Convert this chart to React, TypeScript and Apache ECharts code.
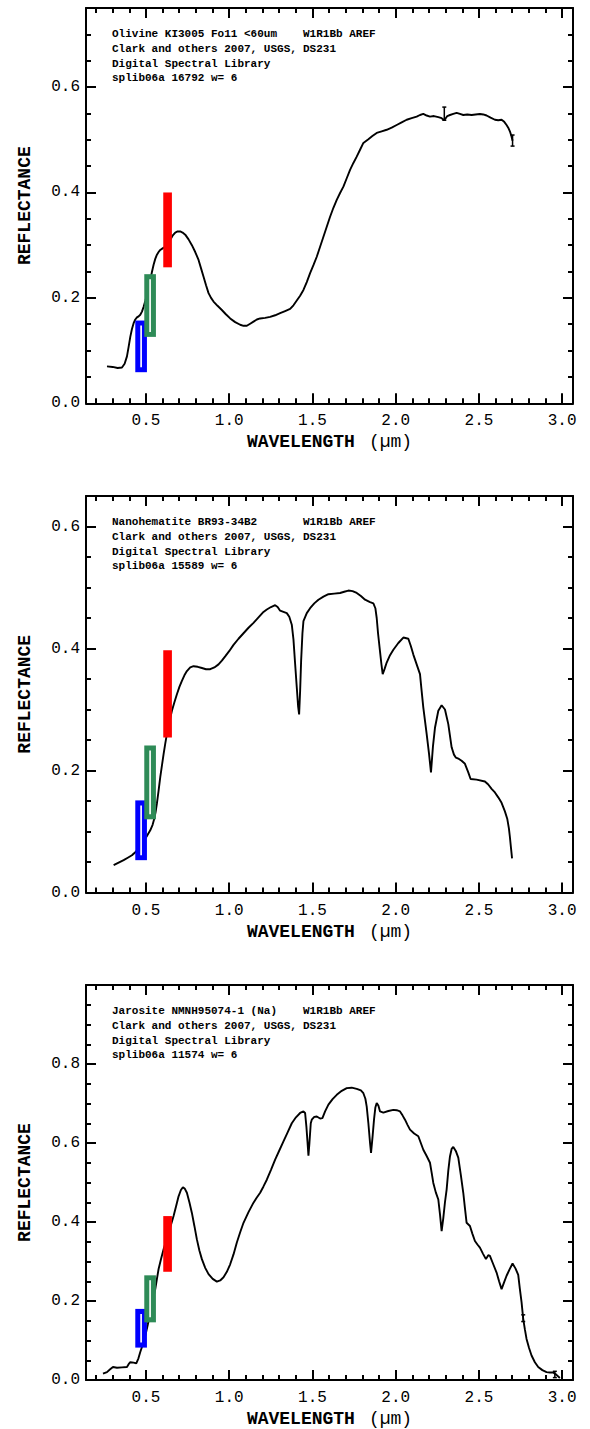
import React, { useEffect, useRef } from "react";
import * as echarts from "echarts";

// ---------- Data ----------
const X_MAJOR = [0.5, 1.0, 1.5, 2.0, 2.5, 3.0];
const X_MINOR = [0.2, 0.3, 0.4, 0.6, 0.7, 0.8, 0.9, 1.1, 1.2, 1.3, 1.4, 1.6, 1.7, 1.8, 1.9, 2.1, 2.2, 2.3, 2.4, 2.6, 2.7, 2.8, 2.9];

const Y1_MAJOR = [0.0, 0.2, 0.4, 0.6];
const Y1_MINOR = [0.05, 0.1, 0.15, 0.25, 0.3, 0.35, 0.45, 0.5, 0.55, 0.65, 0.7];
const Y2_MAJOR = [0.0, 0.2, 0.4, 0.6];
const Y2_MINOR = [0.05, 0.1, 0.15, 0.25, 0.3, 0.35, 0.45, 0.5, 0.55];
const Y3_MAJOR = [0.0, 0.2, 0.4, 0.6, 0.8];
const Y3_MINOR = [0.05, 0.1, 0.15, 0.25, 0.3, 0.35, 0.45, 0.5, 0.55, 0.65, 0.7, 0.75, 0.85, 0.9, 0.95];

const OLIVINE_WL = [0.266, 0.3, 0.33, 0.356, 0.372, 0.386, 0.396, 0.406, 0.416, 0.426, 0.436, 0.446, 0.456, 0.466, 0.476, 0.486, 0.496, 0.506, 0.516, 0.526, 0.536, 0.546, 0.556, 0.566, 0.576, 0.586, 0.6, 0.616, 0.63, 0.646, 0.66, 0.676, 0.69, 0.706, 0.72, 0.736, 0.756, 0.776, 0.796, 0.816, 0.831, 0.846, 0.861, 0.876, 0.891, 0.906, 0.93, 0.956, 0.98, 1.006, 1.036, 1.066, 1.086, 1.106, 1.126, 1.146, 1.166, 1.186, 1.216, 1.246, 1.276, 1.306, 1.336, 1.366, 1.386, 1.406, 1.426, 1.446, 1.466, 1.486, 1.506, 1.526, 1.546, 1.566, 1.586, 1.606, 1.626, 1.646, 1.666, 1.686, 1.706, 1.726, 1.746, 1.766, 1.786, 1.806, 1.836, 1.86, 1.886, 1.916, 1.946, 1.976, 2.006, 2.036, 2.066, 2.096, 2.126, 2.146, 2.166, 2.186, 2.206, 2.23, 2.256, 2.276, 2.292, 2.31, 2.326, 2.346, 2.366, 2.386, 2.406, 2.43, 2.456, 2.48, 2.506, 2.526, 2.546, 2.57, 2.596, 2.616, 2.636, 2.652, 2.666, 2.676, 2.686, 2.695, 2.702];
const OLIVINE_R = [0.07, 0.069, 0.067, 0.068, 0.075, 0.089, 0.107, 0.126, 0.141, 0.152, 0.159, 0.163, 0.165, 0.168, 0.174, 0.183, 0.194, 0.206, 0.219, 0.234, 0.249, 0.263, 0.274, 0.282, 0.287, 0.291, 0.294, 0.297, 0.302, 0.31, 0.318, 0.324, 0.326, 0.326, 0.324, 0.32, 0.311, 0.3, 0.287, 0.272, 0.256, 0.24, 0.224, 0.209, 0.2, 0.193, 0.185, 0.177, 0.169, 0.161, 0.154, 0.149, 0.147, 0.147, 0.151, 0.155, 0.159, 0.161, 0.162, 0.164, 0.167, 0.171, 0.175, 0.179, 0.186, 0.195, 0.204, 0.215, 0.23, 0.247, 0.262, 0.278, 0.297, 0.316, 0.335, 0.354, 0.371, 0.386, 0.399, 0.411, 0.427, 0.443, 0.456, 0.468, 0.481, 0.494, 0.501, 0.507, 0.513, 0.516, 0.519, 0.523, 0.528, 0.533, 0.538, 0.541, 0.544, 0.547, 0.549, 0.546, 0.544, 0.545, 0.543, 0.541, 0.537, 0.545, 0.547, 0.549, 0.551, 0.549, 0.547, 0.548, 0.547, 0.548, 0.549, 0.548, 0.546, 0.542, 0.538, 0.537, 0.538, 0.534, 0.528, 0.523, 0.516, 0.507, 0.498];

const HEMATITE_WL = [0.306, 0.336, 0.366, 0.391, 0.416, 0.436, 0.456, 0.476, 0.496, 0.511, 0.526, 0.54, 0.55, 0.558, 0.566, 0.576, 0.586, 0.596, 0.606, 0.616, 0.626, 0.641, 0.656, 0.671, 0.686, 0.701, 0.716, 0.731, 0.746, 0.766, 0.786, 0.811, 0.836, 0.861, 0.886, 0.911, 0.936, 0.956, 0.976, 1.001, 1.026, 1.056, 1.086, 1.116, 1.146, 1.176, 1.206, 1.226, 1.251, 1.276, 1.291, 1.306, 1.326, 1.346, 1.361, 1.376, 1.386, 1.396, 1.406, 1.414, 1.42, 1.426, 1.432, 1.44, 1.446, 1.466, 1.486, 1.511, 1.536, 1.566, 1.596, 1.631, 1.666, 1.691, 1.716, 1.741, 1.766, 1.791, 1.816, 1.846, 1.866, 1.878, 1.886, 1.894, 1.906, 1.914, 1.922, 1.934, 1.946, 1.966, 1.986, 2.016, 2.046, 2.076, 2.091, 2.106, 2.126, 2.146, 2.156, 2.166, 2.186, 2.2, 2.212, 2.224, 2.236, 2.256, 2.276, 2.296, 2.316, 2.336, 2.35, 2.362, 2.38, 2.396, 2.416, 2.436, 2.45, 2.486, 2.536, 2.556, 2.576, 2.596, 2.616, 2.636, 2.656, 2.67, 2.68, 2.686, 2.693, 2.699];
const HEMATITE_R = [0.045, 0.049, 0.053, 0.057, 0.061, 0.066, 0.072, 0.079, 0.088, 0.095, 0.102, 0.111, 0.121, 0.132, 0.146, 0.167, 0.189, 0.208, 0.227, 0.244, 0.26, 0.28, 0.298, 0.312, 0.325, 0.337, 0.347, 0.356, 0.363, 0.369, 0.371, 0.37, 0.368, 0.366, 0.366, 0.369, 0.374, 0.38, 0.387, 0.396, 0.406, 0.416, 0.425, 0.434, 0.442, 0.451, 0.46, 0.464, 0.468, 0.471, 0.468, 0.462, 0.46, 0.458, 0.452, 0.439, 0.415, 0.375, 0.336, 0.305, 0.292, 0.33, 0.379, 0.425, 0.445, 0.458, 0.466, 0.474, 0.48, 0.485, 0.489, 0.49, 0.491, 0.493, 0.495, 0.494, 0.491, 0.486, 0.48, 0.476, 0.474, 0.466, 0.45, 0.425, 0.395, 0.375, 0.358, 0.367, 0.377, 0.389, 0.398, 0.409, 0.418, 0.416, 0.404, 0.39, 0.374, 0.358, 0.33, 0.303, 0.26, 0.228, 0.197, 0.24, 0.27, 0.298, 0.307, 0.3, 0.276, 0.238, 0.226, 0.221, 0.219, 0.216, 0.211, 0.197, 0.186, 0.185, 0.182, 0.177, 0.17, 0.164, 0.156, 0.147, 0.133, 0.121, 0.105, 0.091, 0.072, 0.056];

const JAROSITE_WL = [0.242, 0.266, 0.285, 0.302, 0.326, 0.356, 0.386, 0.396, 0.406, 0.426, 0.442, 0.455, 0.466, 0.481, 0.496, 0.511, 0.526, 0.541, 0.556, 0.566, 0.576, 0.591, 0.606, 0.621, 0.636, 0.651, 0.666, 0.681, 0.696, 0.71, 0.722, 0.734, 0.746, 0.761, 0.776, 0.791, 0.806, 0.821, 0.836, 0.856, 0.876, 0.901, 0.926, 0.946, 0.966, 0.986, 1.006, 1.026, 1.046, 1.066, 1.086, 1.116, 1.146, 1.166, 1.186, 1.206, 1.226, 1.251, 1.276, 1.301, 1.326, 1.351, 1.376, 1.401, 1.426, 1.446, 1.456, 1.464, 1.47, 1.476, 1.482, 1.49, 1.496, 1.511, 1.526, 1.546, 1.56, 1.576, 1.596, 1.621, 1.646, 1.676, 1.706, 1.736, 1.766, 1.791, 1.806, 1.818, 1.826, 1.836, 1.846, 1.852, 1.862, 1.87, 1.878, 1.886, 1.896, 1.906, 1.926, 1.956, 1.986, 2.006, 2.026, 2.041, 2.056, 2.071, 2.086, 2.111, 2.136, 2.151, 2.166, 2.186, 2.206, 2.216, 2.226, 2.241, 2.256, 2.266, 2.276, 2.286, 2.296, 2.306, 2.316, 2.326, 2.336, 2.346, 2.361, 2.376, 2.391, 2.406, 2.416, 2.426, 2.446, 2.461, 2.476, 2.491, 2.506, 2.524, 2.542, 2.556, 2.566, 2.586, 2.606, 2.621, 2.636, 2.651, 2.666, 2.684, 2.702, 2.72, 2.736, 2.746, 2.756, 2.766, 2.776, 2.786, 2.801, 2.816, 2.836, 2.856, 2.881, 2.906, 2.926, 2.946, 2.966, 2.986];
const JAROSITE_R = [0.016, 0.02, 0.027, 0.033, 0.031, 0.032, 0.033, 0.04, 0.045, 0.044, 0.042, 0.055, 0.071, 0.09, 0.112, 0.14, 0.171, 0.201, 0.23, 0.256, 0.281, 0.307, 0.331, 0.352, 0.373, 0.394, 0.415, 0.44, 0.465, 0.481, 0.488, 0.484, 0.474, 0.45, 0.423, 0.39, 0.356, 0.328, 0.306, 0.284, 0.268, 0.256, 0.249, 0.252, 0.26, 0.274, 0.293, 0.318, 0.348, 0.374, 0.398, 0.425, 0.449, 0.462, 0.474, 0.49, 0.507, 0.532, 0.558, 0.581, 0.604, 0.627, 0.65, 0.665, 0.676, 0.68, 0.676, 0.64, 0.605, 0.568, 0.6, 0.65, 0.659, 0.666, 0.667, 0.662, 0.663, 0.68, 0.697, 0.711, 0.722, 0.732, 0.739, 0.74, 0.737, 0.733, 0.726, 0.712, 0.692, 0.65, 0.6, 0.575, 0.62, 0.66, 0.69, 0.701, 0.695, 0.68, 0.677, 0.681, 0.684, 0.683, 0.68, 0.67, 0.659, 0.646, 0.634, 0.624, 0.617, 0.6, 0.583, 0.567, 0.55, 0.525, 0.499, 0.475, 0.457, 0.42, 0.377, 0.41, 0.45, 0.482, 0.53, 0.566, 0.585, 0.59, 0.58, 0.563, 0.52, 0.474, 0.435, 0.398, 0.39, 0.37, 0.352, 0.343, 0.335, 0.32, 0.306, 0.316, 0.314, 0.293, 0.272, 0.25, 0.23, 0.247, 0.264, 0.28, 0.295, 0.282, 0.266, 0.23, 0.197, 0.155, 0.128, 0.104, 0.081, 0.062, 0.045, 0.033, 0.025, 0.02, 0.019, 0.019, 0.013, 0.005];

// Wavelength bands of the colour boxes: [start, end]
const BOX_WL = [
  [0.436, 0.506], // blue
  [0.49, 0.56], // green
  [0.604, 0.656], // red
];
const BOX_COLORS = ["#0000ff", "#2e8b57", "#ff0000"];
const BOX_HOLLOW = [true, true, false];
// Reflectance range [low, high] of each box, per panel
const OLIVINE_BOX_R = [[0.059, 0.157], [0.126, 0.245], [0.258, 0.4]];
const HEMATITE_BOX_R = [[0.053, 0.151], [0.12, 0.241], [0.254, 0.397]];
const JAROSITE_BOX_R = [[0.082, 0.18], [0.146, 0.265], [0.274, 0.415]];

// Error bars: [wavelength, low, high]
const OLIVINE_ERR = [[2.292, 0.537, 0.562], [2.702, 0.488, 0.509]];
const HEMATITE_ERR: number[][] = [];
const JAROSITE_ERR = [[2.766, 0.148, 0.165], [2.956, 0.006, 0.022]];

const OLIVINE_LINES = ["Olivine KI3005 Fo11 <60um", "Clark and others 2007, USGS,", "Digital Spectral Library", "splib06a 16792 w= 6"];
const HEMATITE_LINES = ["Nanohematite BR93-34B2", "Clark and others 2007, USGS,", "Digital Spectral Library", "splib06a 15589 w= 6"];
const JAROSITE_LINES = ["Jarosite NMNH95074-1 (Na)", "Clark and others 2007, USGS,", "Digital Spectral Library", "splib06a 11574 w= 6"];
const RIGHT_LINES = ["W1R1Bb AREF", "DS231"];

const X_MIN = 0.14;
const X_MAX = 3.065;

// ---------- Layout ----------
const W = 590;
const H = 1429;
const GRID_LEFT = 86;
const GRID_WIDTH = 487;
const GRID_TOPS = [8, 496, 985];
const GRID_HEIGHTS = [395.3, 396.5, 396.3];
const MONO = "'Liberation Mono', 'DejaVu Sans Mono', monospace";

const PANELS = [
  { wl: OLIVINE_WL, r: OLIVINE_R, yMax: 0.75, yMajor: Y1_MAJOR, yMinor: Y1_MINOR, box: OLIVINE_BOX_R, err: OLIVINE_ERR, lines: OLIVINE_LINES },
  { wl: HEMATITE_WL, r: HEMATITE_R, yMax: 0.65, yMajor: Y2_MAJOR, yMinor: Y2_MINOR, box: HEMATITE_BOX_R, err: HEMATITE_ERR, lines: HEMATITE_LINES },
  { wl: JAROSITE_WL, r: JAROSITE_R, yMax: 1.0, yMajor: Y3_MAJOR, yMinor: Y3_MINOR, box: JAROSITE_BOX_R, err: JAROSITE_ERR, lines: JAROSITE_LINES },
];

const AXIS_LINE = { color: "#000", width: 2 };

function buildOption() {
  const grid: any[] = [];
  const xAxis: any[] = [];
  const yAxis: any[] = [];
  const series: any[] = [];
  const title: any[] = [];

  PANELS.forEach((p, g) => {
    grid.push({ left: GRID_LEFT, top: GRID_TOPS[g], width: GRID_WIDTH, height: GRID_HEIGHTS[g], containLabel: false });

    const xBase = (position: string, values: number[], len: number, withLabel: boolean, line: boolean) => ({
      type: "value",
      gridIndex: g,
      position,
      min: X_MIN,
      max: X_MAX,
      axisLine: { show: line, onZero: false, lineStyle: AXIS_LINE },
      axisTick: { show: true, inside: true, length: len, customValues: values, lineStyle: AXIS_LINE },
      axisLabel: withLabel
        ? { show: true, customValues: values, formatter: (v: number) => v.toFixed(1), margin: 10, color: "#000", fontFamily: MONO, fontSize: 16 }
        : { show: false },
      splitLine: { show: false },
    });
    const xMainIndex = xAxis.length;
    xAxis.push({
      ...xBase("bottom", X_MAJOR, 10, true, true),
      name: "{b|WAVELENGTH}{n|(µm)}",
      nameLocation: "middle",
      nameGap: 30,
      nameTextStyle: {
        rich: {
          b: { fontFamily: MONO, fontSize: 18, fontWeight: "bold", color: "#000" },
          n: { fontFamily: MONO, fontSize: 18, fontWeight: "normal", color: "#000", padding: [0, 0, 0, 14] },
        },
      },
    });
    xAxis.push(xBase("bottom", X_MINOR, 5, false, false));
    xAxis.push(xBase("top", X_MAJOR, 10, false, true));
    xAxis.push(xBase("top", X_MINOR, 5, false, false));

    const yBase = (position: string, values: number[], len: number, withLabel: boolean, line: boolean) => ({
      type: "value",
      gridIndex: g,
      position,
      min: 0,
      max: p.yMax,
      axisLine: { show: line, onZero: false, lineStyle: AXIS_LINE },
      axisTick: { show: true, inside: true, length: len, customValues: values, lineStyle: AXIS_LINE },
      axisLabel: withLabel
        ? { show: true, customValues: values, formatter: (v: number) => v.toFixed(1), margin: 6, color: "#000", fontFamily: MONO, fontSize: 16 }
        : { show: false },
      splitLine: { show: false },
    });
    const yMainIndex = yAxis.length;
    yAxis.push({
      ...yBase("left", p.yMajor, 10, true, true),
      name: "REFLECTANCE",
      nameLocation: "middle",
      nameRotate: 90,
      nameGap: 52,
      nameTextStyle: { fontFamily: MONO, fontSize: 18, fontWeight: "bold", color: "#000" },
    });
    yAxis.push(yBase("left", p.yMinor, 5, false, false));
    yAxis.push(yBase("right", p.yMajor, 10, false, true));
    yAxis.push(yBase("right", p.yMinor, 5, false, false));

    series.push({
      type: "line",
      xAxisIndex: xMainIndex,
      yAxisIndex: yMainIndex,
      data: p.wl.map((w, i) => [w, p.r[i]]),
      showSymbol: false,
      symbol: "none",
      lineStyle: { color: "#000", width: 1.9 },
      z: 2,
    });

    series.push({
      type: "custom",
      xAxisIndex: xMainIndex,
      yAxisIndex: yMainIndex,
      coordinateSystem: "cartesian2d",
      data: BOX_WL.map((b, k) => [b[0], b[1], p.box[k][0], p.box[k][1], k]),
      encode: { x: [0, 1], y: [2, 3] },
      renderItem: (_params: any, api: any) => {
        const k = api.value(4);
        const tl = api.coord([api.value(0), api.value(3)]);
        const br = api.coord([api.value(1), api.value(2)]);
        const w = br[0] - tl[0];
        const h = br[1] - tl[1];
        const children: any[] = [
          { type: "rect", shape: { x: tl[0], y: tl[1], width: w, height: h }, style: { fill: BOX_COLORS[k] } },
        ];
        if (BOX_HOLLOW[k]) {
          const inset = 5;
          children.push({
            type: "rect",
            shape: { x: tl[0] + inset, y: tl[1] + inset, width: Math.max(w - 2 * inset, 1), height: h - 2 * inset },
            style: { fill: "#ffffff" },
          });
        }
        return { type: "group", children };
      },
      z: 3,
    });

    if (p.err.length) {
      series.push({
        type: "custom",
        xAxisIndex: xMainIndex,
        yAxisIndex: yMainIndex,
        coordinateSystem: "cartesian2d",
        data: p.err,
        encode: { x: 0, y: [1, 2] },
        renderItem: (_params: any, api: any) => {
          const lo = api.coord([api.value(0), api.value(1)]);
          const hi = api.coord([api.value(0), api.value(2)]);
          const st = { stroke: "#000", lineWidth: 1.5 };
          return {
            type: "group",
            children: [
              { type: "line", shape: { x1: lo[0], y1: lo[1], x2: hi[0], y2: hi[1] }, style: st },
              { type: "line", shape: { x1: lo[0] - 2, y1: lo[1], x2: lo[0] + 2, y2: lo[1] }, style: st },
              { type: "line", shape: { x1: hi[0] - 2, y1: hi[1], x2: hi[0] + 2, y2: hi[1] }, style: st },
            ],
          };
        },
        z: 2,
      });
    }

    const tStyle = { fontFamily: MONO, fontSize: 11, fontWeight: "bold", color: "#000", lineHeight: 14.8 };
    title.push({ text: p.lines.join("\n"), left: 112, top: GRID_TOPS[g] + 18.6, padding: 0, textStyle: tStyle });
    title.push({ text: RIGHT_LINES.join("\n"), left: 303, top: GRID_TOPS[g] + 18.6, padding: 0, textStyle: tStyle });
  });

  return {
    animation: false,
    backgroundColor: "#ffffff",
    title,
    grid,
    xAxis,
    yAxis,
    series,
  };
}

export default function App() {
  const ref = useRef<HTMLDivElement>(null);
  useEffect(() => {
    if (!ref.current) return;
    const chart = echarts.init(ref.current, undefined, { renderer: "svg", width: W, height: H });
    chart.setOption(buildOption() as any);
    return () => chart.dispose();
  }, []);
  return <div ref={ref} style={{ position: "absolute", left: 0, top: 0, width: W, height: H, background: "#fff" }} />;
}
